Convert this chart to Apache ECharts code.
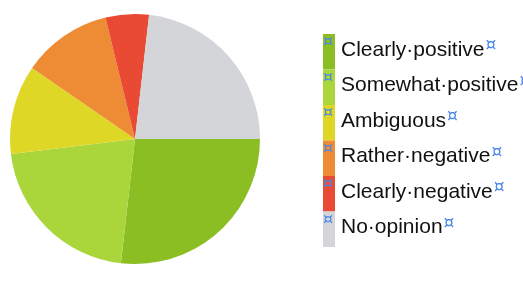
<!DOCTYPE html>
<html>
<head>
<meta charset="utf-8">
<script src="https://cdn.jsdelivr.net/npm/echarts@6/dist/echarts.min.js"></script>
<style>
  html, body { margin: 0; padding: 0; background: #fff; }
  #chart { width: 523px; height: 291px; }
</style>
</head>
<body>
<div id="chart"></div>
<script>
const categories = ['Clearly positive', 'Somewhat positive', 'Ambiguous', 'Rather negative', 'Clearly negative', 'No opinion'];
const shares = [26.8, 21.3, 11.5, 11.6, 5.6, 23.2];
const sliceColors = ['#8bbe23', '#aad63c', '#ded726', '#ee8c35', '#e84a34', '#d3d5d9'];

const LEGEND_LEFT = 323;
const LEGEND_TOP = 34;
const ROW_H = 35.5;
const MARK_COLOR = '#4a86e8';

const chart = echarts.init(document.getElementById('chart'), null, { renderer: 'canvas' });

// small cell markers drawn on top of each legend swatch
const cellMarks = categories.map(function (c, i) {
    return {
        type: 'text',
        left: LEGEND_LEFT,
        top: LEGEND_TOP + i * ROW_H,
        z: 10,
        style: { text: '¤', fill: MARK_COLOR, font: '16px DejaVu Sans' }
    };
});

chart.setOption({
    animation: false,
    color: sliceColors,
    graphic: cellMarks,
    legend: {
        orient: 'vertical',
        left: LEGEND_LEFT,
        top: LEGEND_TOP,
        itemWidth: 12,
        itemHeight: ROW_H,
        itemGap: 0,
        icon: 'rect',
        padding: 0,
        selectedMode: false,
        data: categories,
        formatter: function (name) {
            return '{t|' + name.replace(/ /g, '·') + '}{m|¤}';
        },
        textStyle: {
            padding: [0, 0, 4, 1],
            rich: {
                t: { fontFamily: 'Liberation Sans, Arial, sans-serif', fontSize: 21, color: '#111' },
                m: { fontFamily: 'DejaVu Sans, sans-serif', fontSize: 17, color: MARK_COLOR, verticalAlign: 'top', padding: [0, 0, 8, 1] }
            }
        }
    },
    series: [{
        type: 'pie',
        center: [135, 139],
        radius: 125,
        startAngle: 0,
        clockwise: true,
        label: { show: false },
        labelLine: { show: false },
        itemStyle: { borderWidth: 0 },
        data: categories.map(function (c, i) {
            return { name: c, value: shares[i] };
        })
    }]
});
</script>
</body>
</html>
